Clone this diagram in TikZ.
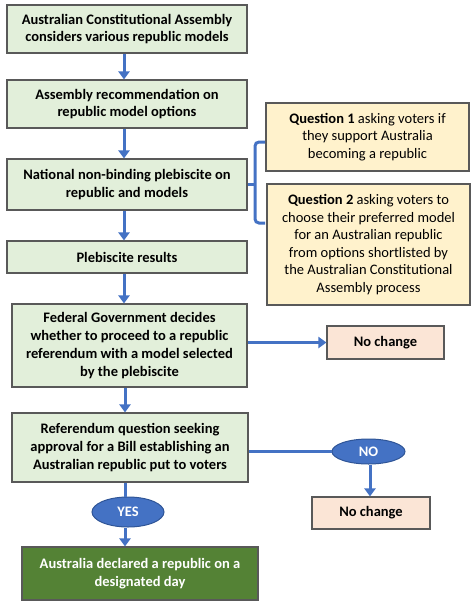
\documentclass[tikz,border=0pt]{standalone}
\usepackage{fontspec}
\setmainfont{Carlito}
\usetikzlibrary{arrows.meta,shapes.geometric}
\definecolor{gfill}{HTML}{E2EFDA}
\definecolor{qfill}{HTML}{FFF2CC}
\definecolor{nfill}{HTML}{FBE5D6}
\definecolor{dgreen}{HTML}{548235}
\definecolor{bblue}{HTML}{4472C4}
\definecolor{dblue}{HTML}{2F5597}
\definecolor{bord}{HTML}{595959}
\tikzset{
  box/.style={draw=bord, line width=1.1pt, rectangle, inner sep=0pt, align=center,
    font=\fontsize{14.5}{17.8}\selectfont\bfseries},
  gbox/.style={box, fill=gfill},
  qbox/.style={box, fill=qfill, font=\fontsize{14.5}{17.6}\selectfont},
  nbox/.style={box, fill=nfill},
  fbox/.style={box, fill=dgreen, text=white},
  oval/.style={ellipse, draw=dblue, line width=1pt, fill=bblue, text=white, inner sep=0pt,
    font=\fontsize{14.5}{16}\selectfont\bfseries},
  arr/.style={draw=bblue, line width=3pt, -{Triangle[width=11pt,length=8pt]}},
  ln/.style={draw=bblue, line width=3pt},
}
\begin{document}
\begin{tikzpicture}[x=1pt,y=-1pt]
\useasboundingbox[fill=white] (0,0) rectangle (474,606);
\node[gbox, minimum width=240pt, minimum height=48pt] (b1) at (127,29)
  {Australian Constitutional Assembly\\considers various republic models};
\node[gbox, minimum width=240pt, minimum height=48pt] (b2) at (127,104)
  {Assembly recommendation on\\republic model options};
\node[gbox, minimum width=240pt, minimum height=51pt] (b3) at (127,184.5)
  {National non-binding plebiscite on\\republic and models};
\node[gbox, minimum width=240pt, minimum height=32pt] (b4) at (127,257)
  {Plebiscite results};
\node[gbox, minimum width=235pt, minimum height=83pt] (b5) at (129.5,345.5)
  {Federal Government decides\\whether to proceed to a republic\\referendum with a model selected\\by the plebiscite};
\node[gbox, minimum width=236pt, minimum height=69pt] (b6) at (130,447.5)
  {Referendum question seeking\\approval for a Bill establishing an\\Australian republic put to voters};
\node[fbox, minimum width=236pt, minimum height=53pt] (fin) at (140,573.5)
  {Australia declared a republic on a\\designated day};
\node[nbox, minimum width=117pt, minimum height=33pt] (nc1) at (385.5,342.5) {No change};
\node[nbox, minimum width=118pt, minimum height=32pt] (nc2) at (371,513) {No change};
\node[qbox, minimum width=203pt, minimum height=68pt] (q1) at (367.5,137)
  {\textbf{Question 1} asking voters if\\they support Australia\\becoming a republic};
\node[qbox, minimum width=203pt, minimum height=121pt] (q2) at (368.5,244.5)
  {\textbf{Question 2} asking voters to\\choose their preferred model\\for an Australian republic\\from options shortlisted by\\the Australian Constitutional\\Assembly process};
\node[oval, minimum width=73pt, minimum height=25pt] (no) at (368.5,451.5) {NO};
\node[oval, minimum width=72pt, minimum height=30pt] (yes) at (128,512) {YES};

\draw[arr] ([xshift=-3pt]b1.south) -- ([xshift=-3pt]b1.south |- b2.north);
\draw[arr] ([xshift=-3pt]b2.south) -- ([xshift=-3pt]b2.south |- b3.north);
\draw[arr] ([xshift=-3pt]b3.south) -- ([xshift=-3pt]b3.south |- b4.north);
\draw[arr] ([xshift=-3pt]b4.south) -- ([xshift=-3pt]b4.south |- b5.north);
\draw[arr] ([xshift=-4.5pt]b5.south) -- ([xshift=-4.5pt]b5.south |- b6.north);
\draw[ln] ([xshift=-5pt]b6.south) -- ([xshift=-5pt]b6.south |- yes.north);
\draw[arr] ([xshift=-3pt]yes.south) -- ([xshift=-3pt]yes.south |- fin.north);
\draw[arr] (nc1.west -| b5.east) -- (nc1.west);
\draw[ln] (no.west -| b6.east) -- (no.west);
\draw[arr] ([xshift=1.5pt]no.south) -- ([xshift=1.5pt]no.south |- nc2.north);

\coordinate (bt) at (265,142);
\coordinate (bb) at (265,223);
\coordinate (bm) at (255,184.5);
\draw[bblue, line width=3pt, rounded corners=4pt] (bt) -- (255,142) -- (255,223) -- (bb);
\draw[ln] (b3.east) -- (bm);
\end{tikzpicture}
\end{document}
